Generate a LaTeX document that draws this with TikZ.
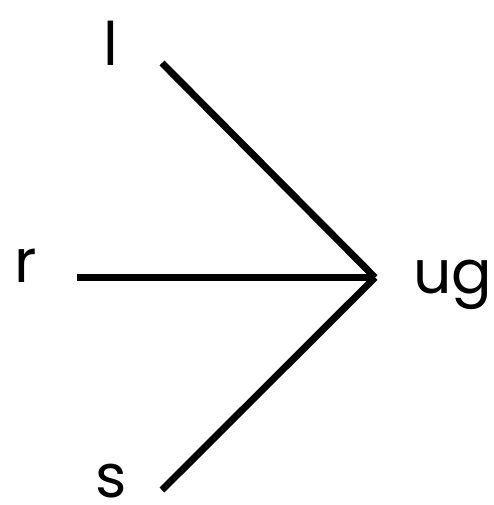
\documentclass[tikz,border=0pt]{standalone}
\usepackage{fontspec}
\setmainfont{Poppins}
\begin{document}
\begin{tikzpicture}[x=1pt,y=-1pt,
  lbl/.style={inner sep=0pt,anchor=base,font=\fontsize{60}{60}\selectfont},
  edge/.style={line width=7pt}]
\useasboundingbox (0,0) rectangle (493,505);
\node[lbl] (l) at (111,66) {l};
\node[lbl] (r) at (26,282) {r};
\node[lbl] (ug) at (453,293) {ug};
\node[lbl] (s) at (111,497) {s};
\coordinate (v) at (375,277.5);
\coordinate (a) at (162,63);
\coordinate (b) at (77,277.5);
\coordinate (c) at (162,490);
\draw[edge] (a) -- (v);
\draw[edge] (b) -- (v);
\draw[edge] (c) -- (v);
\end{tikzpicture}
\end{document}
